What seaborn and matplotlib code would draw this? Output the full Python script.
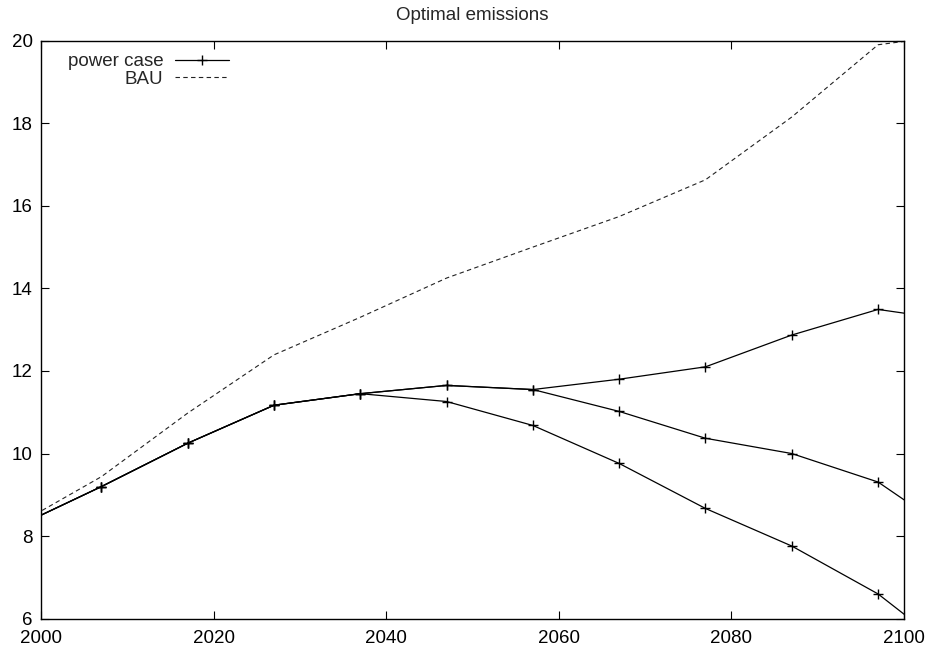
import pandas as pd
import matplotlib
matplotlib.use('Agg')
import matplotlib.pyplot as plt
import seaborn as sns

# Values (the end points lie just outside 2000-2100 and get clipped)
years = [1997, 2007, 2017, 2027, 2037, 2047, 2057, 2067, 2077, 2087, 2097, 2107]
power_high = [8.21, 9.20, 10.25, 11.17, 11.45, 11.65, 11.55, 11.80, 12.10, 12.87, 13.49, 13.19]
power_mid = [8.21, 9.20, 10.25, 11.17, 11.45, 11.65, 11.55, 11.02, 10.37, 10.00, 9.31, 7.88]
power_low = [8.21, 9.20, 10.25, 11.17, 11.45, 11.26, 10.68, 9.76, 8.67, 7.76, 6.60, 4.97]
bau = [8.25, 9.44, 10.98, 12.39, 13.30, 14.25, 15.00, 15.74, 16.63, 18.15, 19.90, 20.17]

x_ticks = [2000, 2020, 2040, 2060, 2080, 2100]
y_ticks = [6, 8, 10, 12, 14, 16, 18, 20]

sns.set_style('ticks')
plt.rcParams['font.family'] = ['Liberation Sans', 'DejaVu Sans']

fig = plt.figure(figsize=(9.3, 6.51), dpi=100)
ax = fig.add_axes([0.0441, 0.0496, 0.9279, 0.888])

df = pd.DataFrame({'year': years, 'high': power_high, 'mid': power_mid,
                   'low': power_low, 'bau': bau})

# the three power case runs share one style and one legend entry
for i, col in enumerate(['high', 'mid', 'low']):
    sns.lineplot(data=df, x='year', y=col, ax=ax, color='black', linewidth=0.9,
                 marker='+', markersize=7, markeredgewidth=1.0,
                 markeredgecolor='black',
                 label='power case' if i == 0 else None)

sns.lineplot(data=df, x='year', y='bau', ax=ax, color='#222222', linewidth=0.8,
             dashes=False, label='BAU')
ax.lines[-1].set_dashes([4, 3])

ax.set_xlim(2000, 2100)
ax.set_ylim(6, 20)
ax.set_xticks(x_ticks)
ax.set_yticks(y_ticks)
ax.set_xlabel('')
ax.set_ylabel('')
ax.set_title('Optimal emissions', fontsize=13.5, pad=14.5)

ax.tick_params(direction='in', length=6, width=0.8, labelsize=13.5, colors='black',
               top=True, right=True)
ax.tick_params(axis='x', pad=8)
ax.tick_params(axis='y', pad=6)
for sp in ax.spines.values():
    sp.set_visible(True)
    sp.set_linewidth(1.0)
    sp.set_color('black')

ax.legend(loc='upper left', bbox_to_anchor=(0.031, 0.978), frameon=False,
          markerfirst=False, alignment='right', fontsize=13.5, handlelength=2.9,
          handletextpad=0.6, labelspacing=0.0, borderpad=0, borderaxespad=0)

fig.savefig('out.png', dpi=100)
